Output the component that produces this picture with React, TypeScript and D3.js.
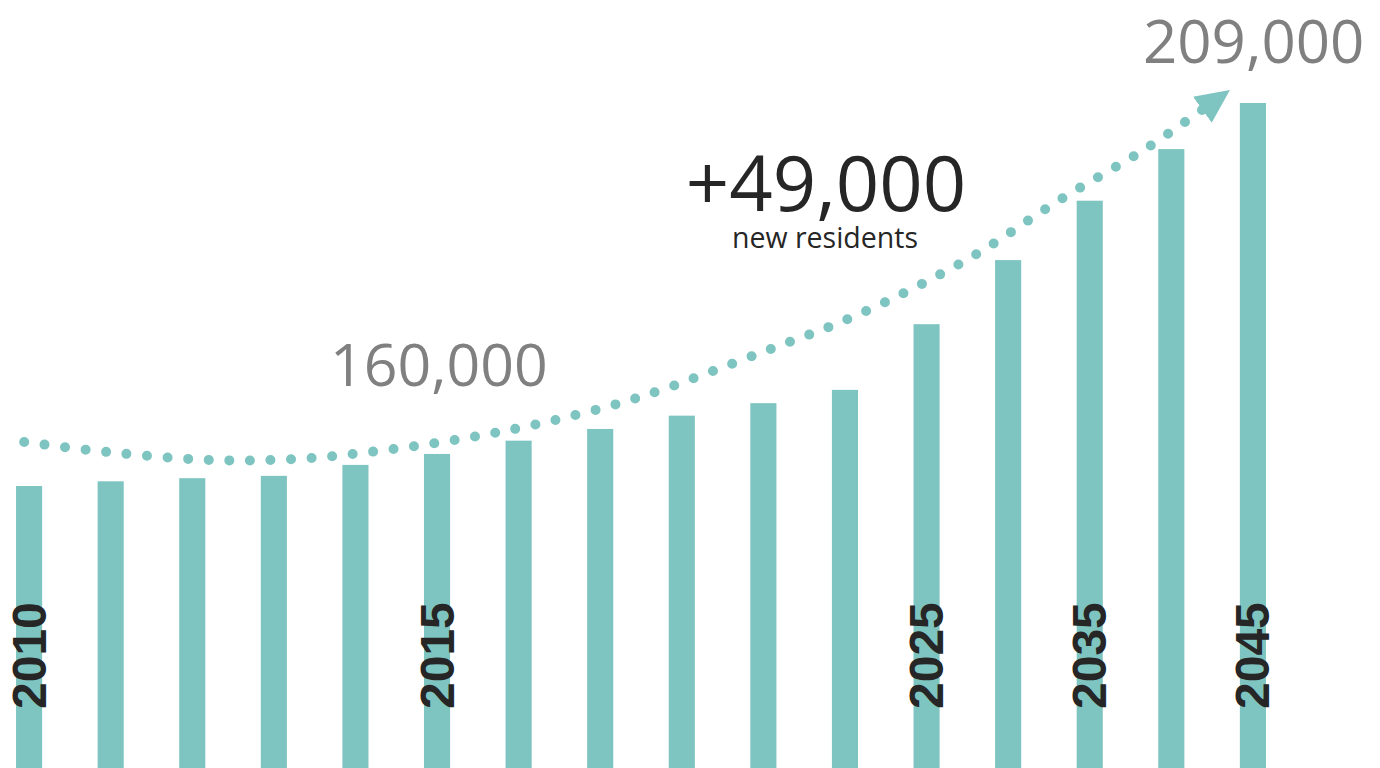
import React from "react";
import * as d3 from "d3";

const years = ["2010","2011","2012","2013","2014","2015","2016","2017","2018","2019","2020","2025","2030","2035","2040","2045"];
const population = [160000,160600,161000,161300,162700,164100,165800,167300,169000,170600,172300,180700,188900,196500,203100,209000];
const labeledYears = ["2010","2015","2025","2035","2045"];

// trend curve, in data space: bar index position and value
const curveIdx = [-0.06,0.96,2.23,3.26,4.28,5.28,6.29,7.49,8.96,10.15,11.53,12.63,13.70,14.41];
const curveVal = [165630,164350,163330,163450,164480,166010,168060,171390,177020,181880,189170,196590,203240,208360];

const startLabel = "160,000";
const endLabel = "209,000";
const changeLabel = "+49,000";
const changeSub = "new residents";

const W = 1380, H = 768;
const TEAL = "#7ec4c0";

export default function App() {
  const x = d3.scaleBand<string>().domain(years).range([-11.7, 1293.7]).paddingInner(0.68).paddingOuter(0.34);
  const bw = x.bandwidth();
  const c0 = (x(years[0]) as number) + bw / 2;
  const c1 = (x(years[years.length - 1]) as number) + bw / 2;
  const xi = d3.scaleLinear().domain([0, years.length - 1]).range([c0, c1]);
  const y = d3.scaleLinear().domain([160000, 209000]).range([486, 103]);

  const pts: [number, number][] = curveIdx.map((d, i) => [xi(d), y(curveVal[i])]);
  const line = d3.line().curve(d3.curveCatmullRom.alpha(0.5));
  const pathD = line(pts) as string;

  const sans = "'Open Sans', 'Noto Sans', sans-serif";

  return (
    <svg width={W} height={H} style={{ position: "absolute", left: 0, top: 0, background: "#fff" }}>
      <defs>
        <marker id="arrow" markerUnits="userSpaceOnUse" viewBox="0 0 36 36" refX="3" refY="18"
          markerWidth="36" markerHeight="36" orient="auto">
          <path d="M0,2 L34,18 L0,34 Z" fill={TEAL} />
        </marker>
      </defs>
      {years.map((yr, i) => (
        <rect key={yr} x={x(yr)} y={y(population[i])} width={bw} height={H - y(population[i])} fill={TEAL} />
      ))}
      <path d={pathD} fill="none" stroke={TEAL} strokeWidth={10} strokeLinecap="round"
        strokeDasharray="0 20.6" markerEnd="url(#arrow)" />
      {labeledYears.map((yr) => {
        const cx = (x(yr) as number) + bw / 2;
        return (
          <text key={yr} transform={`translate(${cx},709) rotate(-90)`} textAnchor="start"
            dominantBaseline="central" fontFamily="'Liberation Sans', Arial, sans-serif" fontWeight="bold"
            fontSize={48} fill="#262626">{yr}</text>
        );
      })}
      <text x={330} y={386} fontFamily={sans} fontSize={59} fill="#808080">{startLabel}</text>
      <text x={1143} y={63} fontFamily={sans} fontSize={60} fill="#808080">{endLabel}</text>
      <text x={826} y={211} textAnchor="middle" fontFamily={sans} fontSize={76} fill="#262626">{changeLabel}</text>
      <text x={825} y={248} textAnchor="middle" fontFamily={sans} fontSize={28.5} fill="#262626">{changeSub}</text>
    </svg>
  );
}
